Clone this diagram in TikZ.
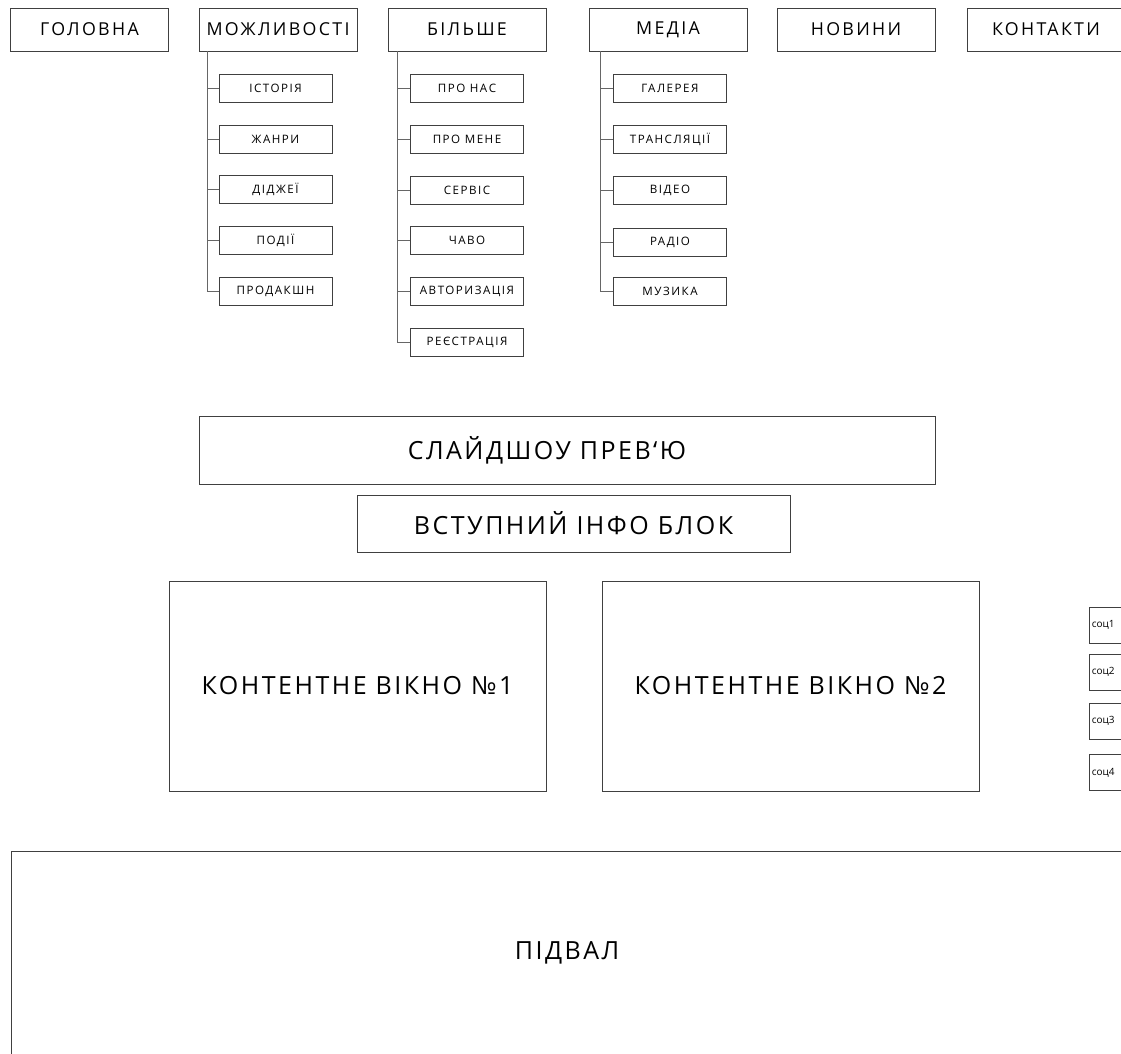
\documentclass[tikz,border=0pt]{standalone}
\usepackage{fontspec}
\setmainfont{Open Sans}
\newfontfamily\menufont[LetterSpace=13]{Open Sans}
\newfontfamily\blockfont[LetterSpace=10]{Open Sans}
\usetikzlibrary{positioning}
\tikzset{box/.style={draw=black!75,line width=0.8pt,inner sep=0pt},
 menubox/.style={box,minimum width=158pt,minimum height=43pt,font=\menufont\fontsize{17.8}{20}\selectfont},
 subbox/.style={box,minimum width=113pt,minimum height=28pt,font=\menufont\fontsize{11.6}{13}\selectfont},
 blockbox/.style={box,font=\blockfont\fontsize{25}{29}\selectfont},
 socbox/.style={box,anchor=west,text width=36pt,inner sep=2.5pt,minimum height=36pt,font=\fontsize{10}{12}\selectfont},
 branch/.style={draw=black!60,line width=0.8pt}}

\begin{document}
\begin{tikzpicture}[x=1pt,y=-1pt]
\useasboundingbox (0,0) rectangle (1121,1054);
\clip (0,0) rectangle (1121,1054);
\node[menubox] (home) at (89.5,29.5) {ГОЛОВНА};
\node[menubox] (features) at (278,29.5) {МОЖЛИВОСТІ};
\node[menubox] (more) at (467,29.5) {БІЛЬШЕ};
\node[menubox] (media) at (668,29.5) {МЕДІА};
\node[menubox] (news) at (856,29.5) {НОВИНИ};
\node[menubox] (contacts) at (1046,29.5) {КОНТАКТИ};
\node[subbox] (history) at (275.5,88) {ІСТОРІЯ};
\node[subbox] (genres) at (275.5,139) {ЖАНРИ};
\node[subbox] (djs) at (275.5,189.5) {ДІДЖЕЇ};
\node[subbox] (events) at (275.5,240.5) {ПОДІЇ};
\node[subbox] (production) at (275.5,291.5) {ПРОДАКШН};
\node[subbox] (about) at (467,88) {ПРО НАС};
\node[subbox] (aboutme) at (467,139) {ПРО МЕНЕ};
\node[subbox] (service) at (467,190) {СЕРВІС};
\node[subbox] (faq) at (467,240.5) {ЧАВО};
\node[subbox] (login) at (467,291.5) {АВТОРИЗАЦІЯ};
\node[subbox] (signup) at (467,342) {РЕЄСТРАЦІЯ};
\node[subbox] (gallery) at (670,88) {ГАЛЕРЕЯ};
\node[subbox] (streams) at (670,139) {ТРАНСЛЯЦІЇ};
\node[subbox] (video) at (670,190) {ВІДЕО};
\node[subbox] (radio) at (670,242.5) {РАДІО};
\node[subbox] (music) at (670,291.5) {МУЗИКА};
\foreach \sub in {history,genres,djs,events,production}
 \draw[branch] (features.south west) ++(9,0) |- (\sub.west);
\foreach \sub in {about,aboutme,service,faq,login,signup}
 \draw[branch] (more.south west) ++(10,0) |- (\sub.west);
\foreach \sub in {gallery,streams,video,radio,music}
 \draw[branch] (media.south west) ++(12,0) |- (\sub.west);
\node[blockbox,minimum width=736pt,minimum height=68pt] (slides) at (567,450) {СЛАЙДШОУ ПРЕВ‘Ю\hspace*{40pt}};
\node[blockbox,minimum width=433pt,minimum height=57pt] (intro) at (573.5,523.5) {ВСТУПНИЙ ІНФО БЛОК};
\node[blockbox,minimum width=377pt,minimum height=210pt] (content1) at (357.5,686) {КОНТЕНТНЕ ВІКНО №1};
\node[blockbox,minimum width=377pt,minimum height=210pt] (content2) at (790.5,686) {КОНТЕНТНЕ ВІКНО №2};
\node[socbox] (soc1) at (1089,625) {соц1};
\node[socbox] (soc2) at (1089,672) {соц2};
\node[socbox] (soc3) at (1089,721) {соц3};
\node[socbox] (soc4) at (1089,772.5) {соц4};
\node[blockbox,minimum width=1112pt,minimum height=204pt] (footer) at (567,953) {ПІДВАЛ};
\end{tikzpicture}
\end{document}
